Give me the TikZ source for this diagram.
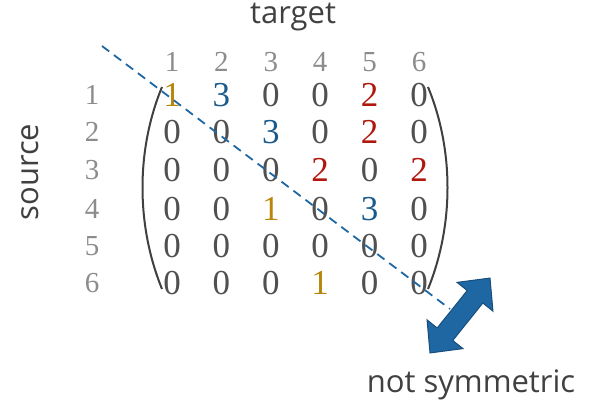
\documentclass[tikz,border=0pt]{standalone}
\usepackage{fontspec}
\setmainfont{Liberation Serif}
\newfontfamily\labfont{Open Sans}
\begin{document}
\begin{tikzpicture}[x=1pt,y=-1pt,
  cell/.style={font=\fontsize{35}{35}\selectfont, inner sep=0pt, anchor=center},
  hdr/.style={font=\fontsize{29}{29}\selectfont, text=hdrgray, inner sep=0pt, anchor=center},
  lab/.style={font=\labfont\fontsize{31}{31}\selectfont, text=labgray, inner sep=0pt}]
\definecolor{digit}{HTML}{505050}
\definecolor{hdrgray}{HTML}{8C8C8C}
\definecolor{labgray}{HTML}{404040}
\definecolor{cgold}{HTML}{B8860B}
\definecolor{cblue}{HTML}{1B5B8C}
\definecolor{cred}{HTML}{B0180E}
\definecolor{arrblue}{HTML}{1F67A3}
\definecolor{arredge}{HTML}{174E7C}
\useasboundingbox (0,0) rectangle (592,406);
% headers
\node[lab] (tgt) at (293,17) {target};
\node[lab, rotate=90] (src) at (30,172) {source};
\node[lab] (ns) at (471,385) {not symmetric};
\foreach \j in {1,...,6} {
  \node[hdr] (c\j) at ({172+49.4*(\j-1)},62) {\j};
}
\foreach \i/\y in {1/95,2/132,3/170,4/209,5/246,6/283} {
  \node[hdr] (r\i) at (92,\y) {\i};
}
% matrix entries
\foreach \row/\y/\vals in {
  1/95/{cgold/1,cblue/3,digit/0,digit/0,cred/2,digit/0},
  2/132/{digit/0,digit/0,cblue/3,digit/0,cred/2,digit/0},
  3/170/{digit/0,digit/0,digit/0,cred/2,digit/0,cred/2},
  4/209/{digit/0,digit/0,cgold/1,digit/0,cblue/3,digit/0},
  5/246/{digit/0,digit/0,digit/0,digit/0,digit/0,digit/0},
  6/283/{digit/0,digit/0,digit/0,cgold/1,digit/0,digit/0}} {
  \foreach \c/\v [count=\j] in \vals {
    \node[cell, text=\c] (m\row\j) at ({172+49.4*(\j-1)},\y) {\v};
  }
}
% parentheses
\draw[labgray, line width=2pt] (162,87) .. controls (136,150) and (136,225) .. (162,289);
\draw[labgray, line width=2pt] (428,87) .. controls (454,150) and (454,225) .. (428,289);
% dashed diagonal
\coordinate (d0) at (102,46);
\coordinate (d1) at (450,309);
\draw[arrblue, line width=1.8pt, dash pattern=on 9pt off 6pt] (d0) -- (d1);
% double arrow
\begin{scope}[shift={(460,315.5)}, rotate=51.3]
\draw[fill=arrblue, draw=arredge, line width=1pt, line join=miter]
  (-48,0) -- (-24,-23) -- (-24,-10) -- (24,-10) -- (24,-23) -- (48,0)
  -- (24,23) -- (24,10) -- (-24,10) -- (-24,23) -- cycle;
\end{scope}
\end{tikzpicture}
\end{document}
